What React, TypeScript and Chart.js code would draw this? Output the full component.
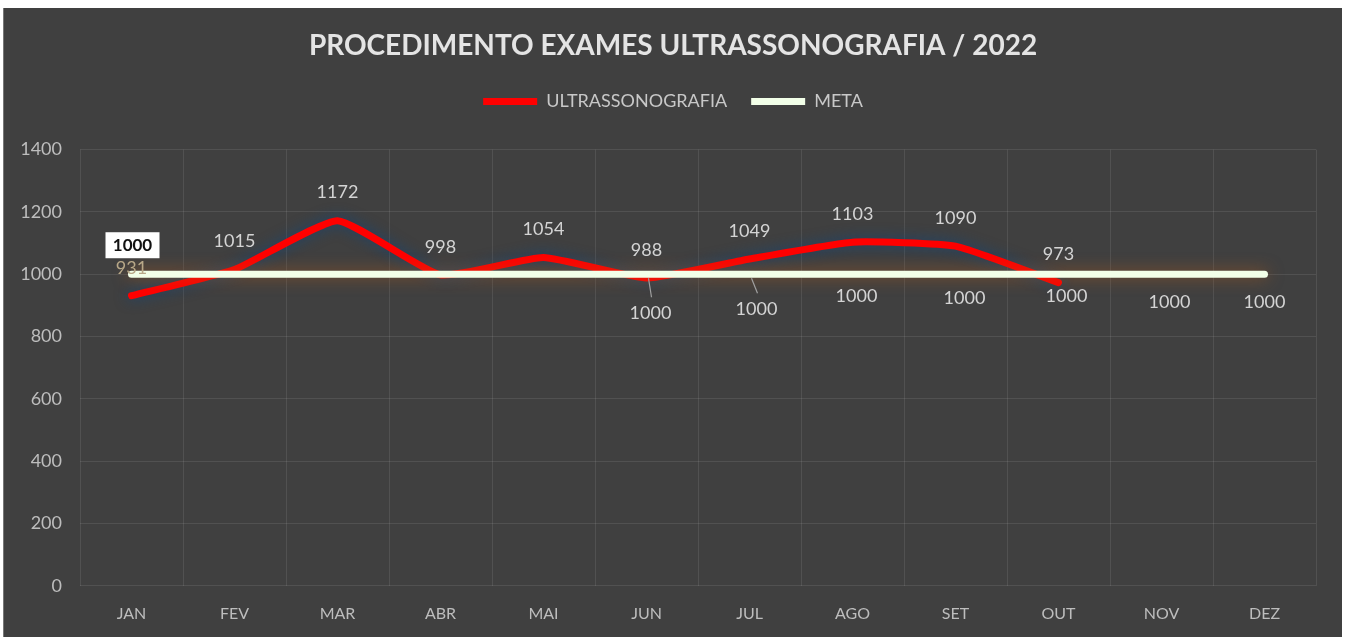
import React, { useEffect, useRef } from "react";
import { Chart, registerables } from "chart.js";

Chart.register(...registerables);

const MONTHS = ["JAN", "FEV", "MAR", "ABR", "MAI", "JUN", "JUL", "AGO", "SET", "OUT", "NOV", "DEZ"];
const ULTRASSONOGRAFIA = [931, 1015, 1172, 998, 1054, 988, 1049, 1103, 1090, 973, null, null];
const META = [1000, 1000, 1000, 1000, 1000, 1000, 1000, 1000, 1000, 1000, 1000, 1000];
const Y_MIN = 0;
const Y_MAX = 1400;
const Y_STEP = 200;

// label styling (offsets in px relative to the point), not data
const META_LABEL_SHOWN = [true, false, false, false, false, true, true, true, true, true, true, true];
const META_LABEL_OFFSETS: [number, number][] = [
  [1, -29], [0, 0], [0, 0], [0, 0], [0, 0], [4, 39], [7, 35], [4, 22], [9, 24], [8, 22], [8, 28], [0, 28],
];
const META_LEADERS = [false, false, false, false, false, true, true, false, false, false, false, false];

const FONT = "Lato, 'Open Sans', 'Liberation Sans', sans-serif";

const glowPlugin = {
  id: "glow",
  beforeDatasetDraw(chart: any, args: any) {
    const ctx = chart.ctx;
    ctx.save();
    if (args.index === 0) {
      ctx.shadowColor = "rgba(20,70,120,0.9)";
      ctx.shadowBlur = 14;
    } else {
      ctx.shadowColor = "rgba(170,90,30,0.7)";
      ctx.shadowBlur = 16;
    }
  },
  afterDatasetDraw(chart: any) {
    chart.ctx.restore();
  },
};

const labelPlugin = {
  id: "valueLabels",
  afterDatasetsDraw(chart: any) {
    const ctx = chart.ctx;
    const m0 = chart.getDatasetMeta(0);
    const m1 = chart.getDatasetMeta(1);
    ctx.save();
    ctx.textAlign = "center";
    ctx.textBaseline = "middle";
    ctx.font = `18px ${FONT}`;
    m0.data.forEach((pt: any, i: number) => {
      const v = ULTRASSONOGRAFIA[i];
      if (v == null) return;
      ctx.fillStyle = i === 0 ? "#b8a888" : "#d4d4d4";
      ctx.fillText(String(v), pt.x, pt.y - 28);
    });
    m1.data.forEach((pt: any, i: number) => {
      if (!META_LABEL_SHOWN[i]) return;
      const [dx, dy] = META_LABEL_OFFSETS[i];
      const x = pt.x + dx;
      const y = pt.y + dy;
      if (i === 0) {
        ctx.fillStyle = "#ffffff";
        ctx.fillRect(x - 27, y - 13, 54, 26);
        ctx.fillStyle = "#111111";
        ctx.font = `bold 17px ${FONT}`;
        ctx.fillText(String(META[i]), x, y);
        ctx.font = `18px ${FONT}`;
        return;
      }
      if (META_LEADERS[i]) {
        ctx.strokeStyle = "#a0a0a0";
        ctx.lineWidth = 1.2;
        ctx.beginPath();
        ctx.moveTo(pt.x + 2, pt.y + 4);
        ctx.lineTo(x + 1, y - 16);
        ctx.stroke();
      }
      ctx.fillStyle = "#d4d4d4";
      ctx.fillText(String(META[i]), x, y);
    });
    ctx.restore();
  },
};

export default function App() {
  const ref = useRef<HTMLCanvasElement | null>(null);

  useEffect(() => {
    document.body.style.margin = "0";
    const canvas = ref.current;
    if (!canvas) return;
    const chart = new Chart(canvas, {
      type: "line",
      data: {
        labels: MONTHS,
        datasets: [
          {
            label: "ULTRASSONOGRAFIA",
            data: ULTRASSONOGRAFIA,
            borderColor: "#ff0000",
            backgroundColor: "#ff0000",
            borderWidth: 7,
            pointRadius: 0,
            tension: 0.15,
            borderCapStyle: "round",
            borderJoinStyle: "round",
            spanGaps: false,
            order: 1,
          },
          {
            label: "META",
            data: META,
            borderColor: "#f2ffe8",
            backgroundColor: "#f2ffe8",
            borderWidth: 7,
            pointRadius: 0,
            borderCapStyle: "round",
            order: 0,
          },
        ],
      },
      options: {
        animation: false,
        responsive: true,
        maintainAspectRatio: false,
        layout: { padding: { left: 0, right: 0, top: 0, bottom: -4 } },
        plugins: {
          title: {
            display: true,
            text: "PROCEDIMENTO EXAMES ULTRASSONOGRAFIA / 2022",
            color: "#e4e4e4",
            font: { family: FONT, size: 28, weight: "bold" },
            padding: { top: 21, bottom: 6 },
          },
          legend: {
            display: true,
            position: "top",
            labels: {
              color: "#c8c8c8",
              font: { family: FONT, size: 18 },
              boxWidth: 54,
              boxHeight: 7,
              padding: 24,
              sort: (a: any, b: any) => a.datasetIndex - b.datasetIndex,
              generateLabels: (chart: any) =>
                chart.data.datasets.map((ds: any, i: number) => ({
                  text: ds.label,
                  fillStyle: ds.borderColor,
                  strokeStyle: ds.borderColor,
                  lineWidth: 0,
                  fontColor: "#c8c8c8",
                  hidden: false,
                  datasetIndex: i,
                })),
            },
          },
          tooltip: { enabled: false },
        },
        scales: {
          x: {
            offset: true,
            grid: { offset: true, color: "rgba(255,255,255,0.09)", drawTicks: false },
            border: { display: false },
            ticks: { color: "#bdbdbd", font: { family: FONT, size: 16 }, padding: 18 },
          },
          xTopSpacer: {
            type: "category",
            position: "top",
            offset: true,
            display: true,
            grid: { display: false, drawTicks: false },
            border: { display: false },
            ticks: { display: false },
            afterFit: (scale: any) => {
              scale.height = 29;
            },
          },
          y: {
            min: Y_MIN,
            max: Y_MAX,
            grid: { color: "rgba(255,255,255,0.09)", drawTicks: false },
            border: { display: false },
            ticks: {
              stepSize: Y_STEP,
              color: "#bdbdbd",
              font: { family: FONT, size: 18 },
              padding: 18,
              callback: (v: any) => String(v),
            },
            afterFit: (scale: any) => {
              scale.width = 76;
            },
          },
          yRightSpacer: {
            type: "linear",
            position: "right",
            display: true,
            grid: { display: false, drawTicks: false },
            border: { display: false },
            ticks: { display: false },
            afterFit: (scale: any) => {
              scale.width = 26;
            },
          },
        },
      },
      plugins: [glowPlugin, labelPlugin],
    });
    return () => chart.destroy();
  }, []);

  return (
    <div style={{ position: "relative", width: 1353, height: 637, background: "#ffffff", overflow: "hidden" }}>
      <div
        style={{
          position: "absolute",
          left: 3,
          top: 8,
          width: 1339,
          height: 629,
          background: "#404040",
          borderLeft: "1px solid #777",
          boxSizing: "border-box",
        }}
      >
        <canvas ref={ref} style={{ display: "block" }} />
      </div>
    </div>
  );
}
